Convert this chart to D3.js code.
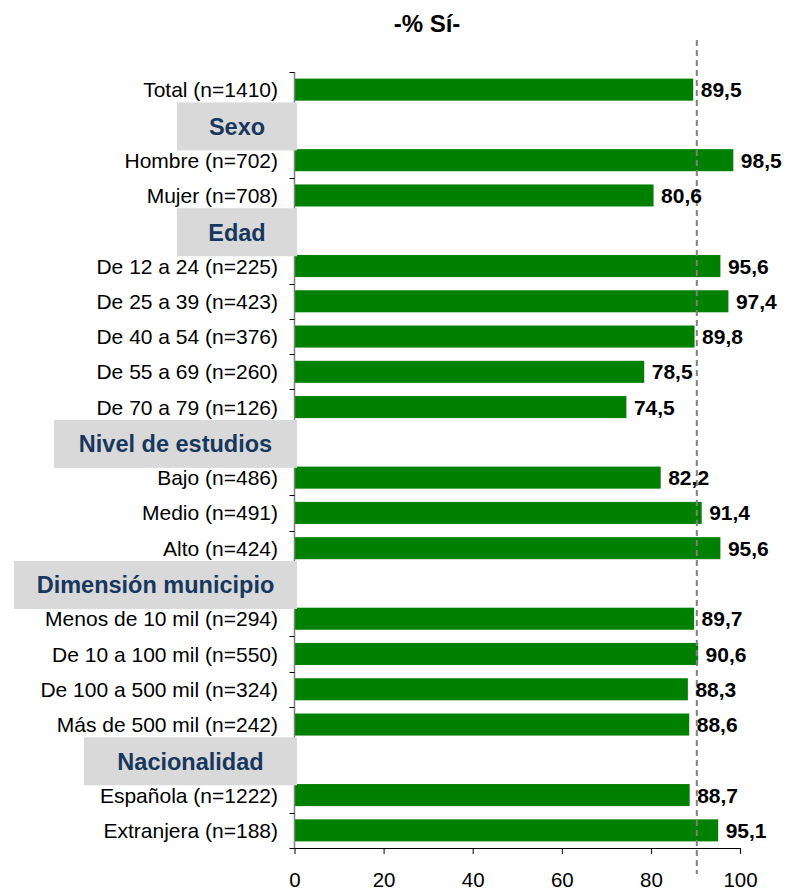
<!DOCTYPE html>
<html>
<head>
<meta charset="utf-8">
<script src="https://cdn.jsdelivr.net/npm/d3@7"></script>
<style>
  body { margin: 0; background: #fff; }
  svg text { font-family: "Liberation Sans", Arial, sans-serif; }
</style>
</head>
<body>
<div id="chart"></div>
<script>
// Data
const rowLabels = [
    "Total (n=1410)",
    "Sexo",
    "Hombre (n=702)", "Mujer (n=708)",
    "Edad",
    "De 12 a 24 (n=225)", "De 25 a 39 (n=423)", "De 40 a 54 (n=376)", "De 55 a 69 (n=260)", "De 70 a 79 (n=126)",
    "Nivel de estudios",
    "Bajo (n=486)", "Medio (n=491)", "Alto (n=424)",
    "Dimensión municipio",
    "Menos de 10 mil (n=294)", "De 10 a 100 mil (n=550)", "De 100 a 500 mil (n=324)", "Más de 500 mil (n=242)",
    "Nacionalidad",
    "Española (n=1222)", "Extranjera (n=188)"
];
const rowValues = [
    89.5,
    null,
    98.5, 80.6,
    null,
    95.6, 97.4, 89.8, 78.5, 74.5,
    null,
    82.2, 91.4, 95.6,
    null,
    89.7, 90.6, 88.3, 88.6,
    null,
    88.7, 95.1
];
const headers = ["Sexo", "Edad", "Nivel de estudios", "Dimensión municipio", "Nacionalidad"];
const xTicks = [0, 20, 40, 60, 80, 100];
const refValue = 90.3;
const title = "-% Sí-";

// Layout
const W = 797, H = 890;
const PLOT = { left: 294.5, right: 740, top: 72, bottom: 848 };
const COLORS = { bar: '#008000', header: '#17375E', headerBg: '#D9D9D9', ref: '#808080' };
const HEADER_BOX_LEFT = { "Sexo": 177, "Edad": 177, "Nivel de estudios": 54, "Dimensión municipio": 14, "Nacionalidad": 84 };

const rows = rowLabels.map((label, i) => ({ label, value: rowValues[i], isHeader: headers.includes(label) }));

const svg = d3.select('#chart').append('svg')
    .attr('width', W)
    .attr('height', H);

const x = d3.scaleLinear().domain([0, 100]).range([PLOT.left, PLOT.right]);
const y = d3.scaleBand()
    .domain(rows.map((d, i) => i))
    .range([PLOT.top, PLOT.bottom])
    .paddingInner(0.375)
    .paddingOuter(0.1875);

const step = y.step();

// Title
svg.append('text')
    .attr('x', 427)
    .attr('y', 32)
    .attr('text-anchor', 'middle')
    .attr('font-size', 24)
    .attr('font-weight', 'bold')
    .text(title);

// Bars
const dataRows = rows.map((d, i) => ({ ...d, i })).filter(d => !d.isHeader);

svg.selectAll('rect.bar')
    .data(dataRows)
    .enter()
    .append('rect')
    .attr('class', 'bar')
    .attr('x', x(0))
    .attr('y', d => y(d.i))
    .attr('width', d => x(d.value) - x(0))
    .attr('height', y.bandwidth())
    .attr('fill', COLORS.bar);

// Left axis: line + band-boundary ticks
const leftAxis = svg.append('g');
leftAxis.append('line')
    .attr('x1', x(0)).attr('x2', x(0))
    .attr('y1', PLOT.top).attr('y2', PLOT.bottom)
    .attr('stroke', '#808080')
    .attr('stroke-width', 1.5);
leftAxis.selectAll('line.tick')
    .data(d3.range(rows.length + 1))
    .enter()
    .append('line')
    .attr('class', 'tick')
    .attr('x1', x(0) - 5).attr('x2', x(0))
    .attr('y1', i => Math.round(PLOT.top + i * step) + 0.5)
    .attr('y2', i => Math.round(PLOT.top + i * step) + 0.5)
    .attr('stroke', '#000');

// Category labels
svg.selectAll('text.cat')
    .data(dataRows)
    .enter()
    .append('text')
    .attr('class', 'cat')
    .attr('x', 278)
    .attr('y', d => y(d.i) + y.bandwidth() / 2)
    .attr('dy', '0.36em')
    .attr('text-anchor', 'end')
    .attr('font-size', 21)
    .attr('fill', '#000')
    .text(d => d.label);

// Bottom axis
const bottomAxis = svg.append('g')
    .attr('transform', `translate(0,${PLOT.bottom})`)
    .call(d3.axisBottom(x).tickValues(xTicks).tickSize(6).tickPadding(18).tickFormat(d3.format('d')));
bottomAxis.select('.domain').attr('stroke', '#000').attr('d', `M${x(0)},0.5H${x(100)}`);
bottomAxis.selectAll('.tick line').attr('stroke', '#000');
bottomAxis.selectAll('.tick text')
    .attr('font-size', 20.5)
    .attr('font-family', '"Liberation Sans", Arial, sans-serif')
    .attr('fill', '#000');

// Header boxes
const headerRows = rows.map((d, i) => ({ ...d, i })).filter(d => d.isHeader);
const hg = svg.selectAll('g.header')
    .data(headerRows)
    .enter()
    .append('g')
    .attr('class', 'header');

hg.append('rect')
    .attr('x', d => HEADER_BOX_LEFT[d.label])
    .attr('y', d => PLOT.top + (d.i + 0.5) * step + 1.5 - 24)
    .attr('width', d => 297 - HEADER_BOX_LEFT[d.label])
    .attr('height', 48)
    .attr('fill', COLORS.headerBg);

hg.append('text')
    .attr('x', d => (HEADER_BOX_LEFT[d.label] + 297) / 2)
    .attr('y', d => PLOT.top + (d.i + 0.5) * step + 1.5)
    .attr('dy', '0.36em')
    .attr('text-anchor', 'middle')
    .attr('font-size', 23.5)
    .attr('font-weight', 'bold')
    .attr('fill', COLORS.header)
    .text(d => d.label);

// Reference dashed line
svg.append('line')
    .attr('x1', x(refValue)).attr('x2', x(refValue))
    .attr('y1', 40).attr('y2', 874)
    .attr('stroke', COLORS.ref)
    .attr('stroke-width', 2)
    .attr('stroke-dasharray', '6,4');

// Value labels
const fmt = v => d3.format('.1f')(v).replace('.', ',');
svg.selectAll('text.val')
    .data(dataRows)
    .enter()
    .append('text')
    .attr('class', 'val')
    .attr('x', d => x(d.value) + 7.5)
    .attr('y', d => y(d.i) + y.bandwidth() / 2)
    .attr('dy', '0.36em')
    .attr('font-size', 21)
    .attr('font-weight', 'bold')
    .attr('fill', '#000')
    .text(d => fmt(d.value));
</script>
</body>
</html>
